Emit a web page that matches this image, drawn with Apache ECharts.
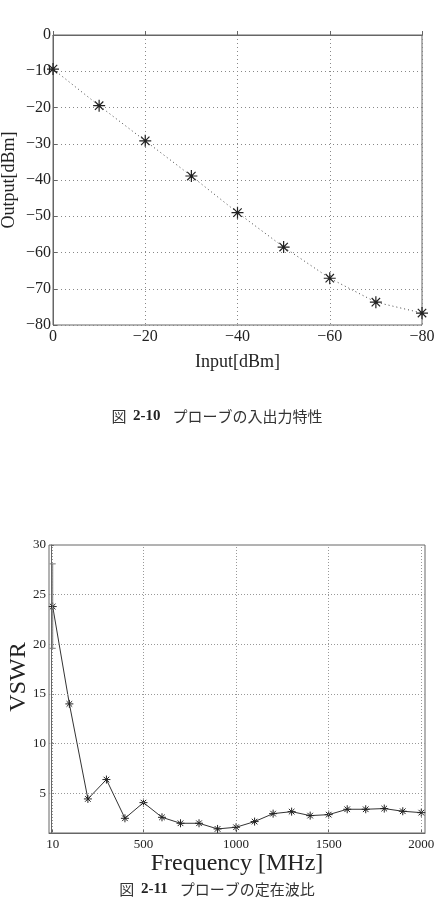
<!DOCTYPE html>
<html>
<head>
<meta charset="utf-8">
<script src="https://cdn.jsdelivr.net/npm/echarts@6/dist/echarts.min.js"></script>
<style>
  html, body { margin: 0; padding: 0; background: #fff; }
  #main { width: 434px; height: 905px; }
</style>
</head>
<body>
<div id="main"></div>
<script>
// 図 2-10 入出力特性
const inputDbm = [0, -10, -20, -30, -40, -50, -60, -70, -80]
const outputDbm = [-9.4, -19.5, -29.2, -38.9, -49.0, -58.5, -67.1, -73.7, -76.7]

// 図 2-11 定在波比
const freqMHz = [10, 100, 200, 300, 400, 500, 600, 700, 800, 900, 1000,
  1100, 1200, 1300, 1400, 1500, 1600, 1700, 1800, 1900, 2000]
const vswr = [23.8, 14.0, 4.43, 6.38, 2.48, 4.06, 2.58, 1.98, 1.98, 1.41, 1.58,
  2.15, 2.95, 3.15, 2.75, 2.85, 3.39, 3.39, 3.46, 3.19, 3.05]
// error bar on the first point
const errFreq = [10]
const errLow = [19.6]
const errHigh = [28.1]

const freqTicks = [10, 500, 1000, 1500, 2000]
const vswrTicks = [5, 10, 15, 20, 25, 30]

const serif = 'Liberation Serif'
const star = 'path://M0,-10L0,10M-10,0L10,0M-7,-7L7,7M-7,7L7,-7'
const minus = v => (v < 0 ? '\u2212' + Math.abs(v) : String(v))

const chart = echarts.init(document.getElementById('main'))

const gridLines = freqTicks.map(v => ({ xAxis: v }))
  .concat(vswrTicks.slice(0, -1).map(v => ({ yAxis: v })))

chart.setOption({
  animation: false,
  backgroundColor: '#fff',
  grid: [
    {
      left: 53, top: 35, width: 369, height: 290, outerBoundsMode: 'none',
      show: true, borderColor: '#666', borderWidth: 1
    },
    {
      left: 49, top: 545, width: 376, height: 288, outerBoundsMode: 'none',
      show: true, borderColor: '#666', borderWidth: 1
    }
  ],
  xAxis: [
    {
      gridIndex: 0,
      type: 'value',
      inverse: true,
      min: -80,
      max: 0,
      interval: 20,
      name: 'Input[dBm]',
      nameLocation: 'middle',
      nameGap: 28,
      nameTextStyle: { fontFamily: serif, fontSize: 18, color: '#222' },
      axisLine: { lineStyle: { color: '#666' } },
      axisTick: { inside: true, length: 4, lineStyle: { color: '#666' } },
      axisLabel: { fontFamily: serif, fontSize: 16, color: '#222', margin: 4, formatter: minus },
      splitLine: { show: true, lineStyle: { type: [1, 3], color: '#888' } }
    },
    {
      gridIndex: 1,
      type: 'value',
      min: -10,
      max: 2020,
      name: 'Frequency [MHz]',
      nameLocation: 'middle',
      nameGap: 12,
      nameTextStyle: { fontFamily: serif, fontSize: 24, color: '#222' },
      axisLine: { lineStyle: { color: '#666' } },
      axisTick: { inside: true, length: 3, customValues: freqTicks, lineStyle: { color: '#666' } },
      axisLabel: {
        fontFamily: serif, fontSize: 13, color: '#222', margin: 5,
        customValues: freqTicks, formatter: v => String(v)
      },
      splitLine: { show: false }
    }
  ],
  yAxis: [
    {
      gridIndex: 0,
      type: 'value',
      min: -80,
      max: 0,
      interval: 10,
      name: 'Output[dBm]',
      nameLocation: 'middle',
      nameGap: 35,
      nameMoveOverlap: false,
      nameTextStyle: { fontFamily: serif, fontSize: 18, color: '#222' },
      axisLine: { lineStyle: { color: '#666' } },
      axisTick: { inside: true, length: 4, lineStyle: { color: '#666' } },
      axisLabel: { fontFamily: serif, fontSize: 16, color: '#222', margin: 2, formatter: minus },
      splitLine: { show: true, lineStyle: { type: [1, 3], color: '#888' } }
    },
    {
      gridIndex: 1,
      type: 'value',
      min: 1,
      max: 30,
      name: 'VSWR',
      nameLocation: 'middle',
      nameGap: 18,
      nameMoveOverlap: false,
      nameTextStyle: { fontFamily: serif, fontSize: 24, color: '#222', padding: [0, 0, 0, 24] },
      axisLine: { lineStyle: { color: '#666' } },
      axisTick: { inside: true, length: 3, customValues: vswrTicks, lineStyle: { color: '#666' } },
      axisLabel: {
        fontFamily: serif, fontSize: 13, color: '#222', margin: 3,
        customValues: vswrTicks, formatter: v => String(v)
      },
      splitLine: { show: false }
    }
  ],
  series: [
    {
      type: 'line',
      xAxisIndex: 0,
      yAxisIndex: 0,
      data: inputDbm.map((x, i) => [x, outputDbm[i]]),
      symbol: star,
      symbolSize: 12,
      itemStyle: { color: '#222', borderColor: '#222', borderWidth: 1.2 },
      lineStyle: { type: [1, 3], width: 1, color: '#444' }
    },
    {
      // dotted grid of the second plot
      type: 'line',
      xAxisIndex: 1,
      yAxisIndex: 1,
      data: [],
      z: 1,
      markLine: {
        silent: true,
        symbol: ['none', 'none'],
        label: { show: false },
        lineStyle: { type: [1, 2], color: '#999', width: 1 },
        data: gridLines
      }
    },
    {
      type: 'line',
      xAxisIndex: 1,
      yAxisIndex: 1,
      data: freqMHz.map((x, i) => [x, vswr[i]]),
      symbol: star,
      symbolSize: 8,
      z: 3,
      itemStyle: { color: '#222', borderColor: '#222', borderWidth: 1 },
      lineStyle: { width: 1, color: '#333' }
    },
    {
      type: 'custom',
      xAxisIndex: 1,
      yAxisIndex: 1,
      z: 4,
      data: errFreq.map((x, i) => [x, errLow[i], errHigh[i]]),
      renderItem(params, api) {
        const lo = api.coord([api.value(0), api.value(1)])
        const hi = api.coord([api.value(0), api.value(2)])
        const w = 3
        const style = { stroke: '#777', lineWidth: 1 }
        return {
          type: 'group',
          children: [
            { type: 'line', shape: { x1: lo[0], y1: lo[1], x2: hi[0], y2: hi[1] }, style },
            { type: 'line', shape: { x1: lo[0] - w, y1: lo[1], x2: lo[0] + w, y2: lo[1] }, style },
            { type: 'line', shape: { x1: hi[0] - w, y1: hi[1], x2: hi[0] + w, y2: hi[1] }, style }
          ]
        }
      }
    }
  ],
  graphic: [
    {
      type: 'text',
      left: 'center',
      top: 409,
      style: {
        text: '{a|図}  {b|2-10}　{a|プローブの入出力特性}',
        rich: {
          a: { fontFamily: 'Noto Sans CJK JP', fontSize: 15, fill: '#333' },
          b: { fontFamily: serif, fontSize: 15, fontWeight: 'bold', fill: '#222' }
        }
      }
    },
    {
      type: 'text',
      left: 'center',
      top: 882,
      style: {
        text: '{a|図}  {b|2-11}　{a|プローブの定在波比}',
        rich: {
          a: { fontFamily: 'Noto Sans CJK JP', fontSize: 15, fill: '#333' },
          b: { fontFamily: serif, fontSize: 15, fontWeight: 'bold', fill: '#222' }
        }
      }
    }
  ]
})
</script>
</body>
</html>
